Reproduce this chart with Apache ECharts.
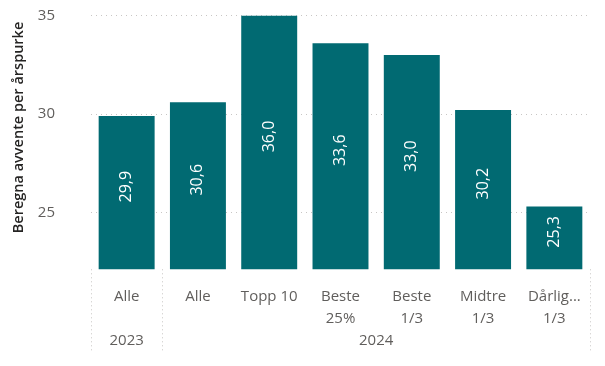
<!DOCTYPE html>
<html>
<head>
<meta charset="utf-8">
<script src="https://cdn.jsdelivr.net/npm/echarts@6/dist/echarts.min.js"></script>
<style>
html,body{margin:0;padding:0;background:#fff;}
#chart{width:605px;height:366px;}
</style>
</head>
<body>
<div id="chart"></div>
<script>
const categories = ['Alle', 'Alle', 'Topp 10', 'Beste\n25%', 'Beste\n1/3', 'Midtre\n1/3', 'Dårlig...\n1/3'];
const values = [29.9, 30.6, 36.0, 33.6, 33.0, 30.2, 25.3];
const groupLabels = ['2023', '2024'];
const groupStart = [0, 1];
const groupEnd = [1, 7];
const yTicks = [25, 30, 35];
const yMin = 22.1;
const yMax = 35;
const yTitle = 'Beregna avvente per årspurke';

const FONT = '"Segoe UI", "Open Sans", sans-serif';
const groupCenters = groupStart.map((s, i) => (s + groupEnd[i]) / 2);
const groupBounds = Array.from(new Set(groupStart.concat(groupEnd)));

const chart = echarts.init(document.getElementById('chart'), null, {renderer: 'canvas'});
chart.setOption({
  animation: false,
  backgroundColor: '#ffffff',
  textStyle: {fontFamily: FONT},
  grid: {left: 91, right: 15, top: 15.7, bottom: 96.7, containLabel: false},
  graphic: [{
    type: 'text',
    rotation: Math.PI / 2,
    x: 18.5, y: 127.5,
    style: {
      text: yTitle,
      fill: '#252423',
      font: '600 14.5px ' + FONT,
      align: 'center',
      verticalAlign: 'middle'
    }
  }],
  xAxis: [{
    type: 'category',
    data: categories,
    position: 'bottom',
    axisLine: {show: false},
    axisTick: {show: false},
    splitLine: {show: false},
    axisLabel: {
      interval: 0,
      color: '#605E5C',
      fontSize: 15,
      lineHeight: 22,
      margin: 16,
      fontFamily: FONT
    }
  }, {
    type: 'value',
    min: 0,
    max: categories.length,
    position: 'bottom',
    axisLine: {show: false},
    splitLine: {show: false},
    axisTick: {
      show: true,
      customValues: groupBounds,
      length: 84,
      lineStyle: {color: '#C8C6C4', type: [1, 3], width: 1}
    },
    axisLabel: {
      show: true,
      customValues: groupCenters,
      color: '#605E5C',
      fontSize: 15,
      lineHeight: 22,
      margin: 60,
      fontFamily: FONT,
      formatter: function (v) {
        const i = groupCenters.findIndex(c => Math.abs(c - v) < 1e-6);
        return i >= 0 ? groupLabels[i] : '';
      }
    }
  }],
  yAxis: {
    type: 'value',
    min: yMin,
    max: yMax,
    axisLine: {show: false},
    axisTick: {show: false, customValues: yTicks},
    axisLabel: {
      customValues: yTicks,
      color: '#605E5C',
      fontSize: 15,
      margin: 36,
      fontFamily: FONT
    },
    splitLine: {
      show: true,
      customValues: yTicks,
      lineStyle: {color: '#C8C6C4', type: [1, 4], width: 1}
    }
  },
  series: [{
    type: 'bar',
    xAxisIndex: 0,
    yAxisIndex: 0,
    data: values,
    barCategoryGap: '21.5%',
    clip: true,
    itemStyle: {color: '#016A72'},
    label: {
      show: true,
      position: 'inside',
      rotate: 90,
      offset: [6, 0],
      color: '#ffffff',
      fontSize: 16,
      fontFamily: FONT,
      formatter: p => p.value.toFixed(1).replace('.', ',')
    }
  }]
});
</script>
</body>
</html>
